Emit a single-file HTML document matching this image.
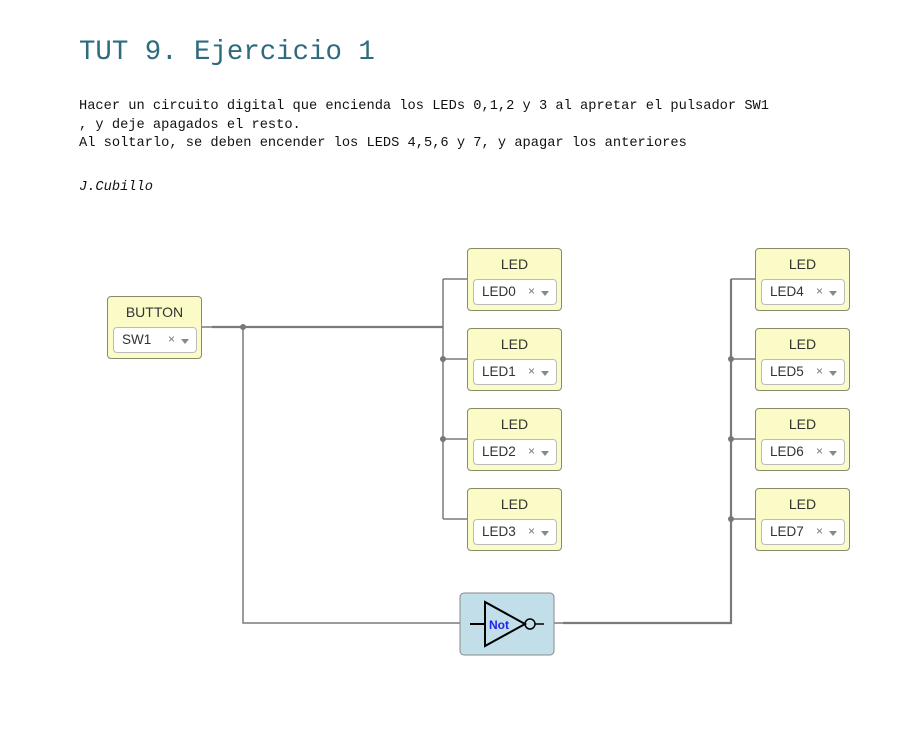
<!DOCTYPE html>
<html><head><meta charset="utf-8"><style>
body{margin:0;width:919px;height:734px;background:#fff;position:relative;overflow:hidden;font-family:"Liberation Sans",sans-serif}
.t{position:absolute;left:79px;font-family:"Liberation Mono",monospace;white-space:pre}
.box{position:absolute;width:95px;height:63px;background:#fbfbc8;border:1px solid #8a8a6a;border-radius:4px;box-sizing:border-box}
.box .h{position:absolute;top:7px;left:0;right:0;text-align:center;font-size:14px;color:#333}
.box .s{position:absolute;left:5px;top:30px;width:84px;height:26px;background:#fff;border:1px solid #bbb;border-radius:4px;box-sizing:border-box;font-size:13.5px;color:#333}
.s span{position:absolute;left:8px;top:4px}
.s i{position:absolute;left:54px;top:4px;font-style:normal;font-size:12px;color:#777}
.s b{position:absolute;left:67px;top:11px;border-left:4px solid transparent;border-right:4px solid transparent;border-top:5px solid #888}
</style></head><body>
<div class="t" style="top:37px;font-size:27.4px;color:#2e6b7e">TUT 9. Ejercicio 1</div>
<div class="t" style="top:98px;font-size:13.7px;line-height:18.5px;color:#111">Hacer un circuito digital que encienda los LEDs 0,1,2 y 3 al apretar el pulsador SW1
, y deje apagados el resto.
Al soltarlo, se deben encender los LEDS 4,5,6 y 7, y apagar los anteriores</div>
<div class="t" style="top:180px;font-size:13.7px;font-style:italic;color:#111">J.Cubillo</div>
<svg width="919" height="734" style="position:absolute;left:0;top:0">
<g stroke="#7a7a7a" fill="none">
<path d="M202 327H212M243 327V623H460M443 279H468M443 359H468M443 439H468M443 519H468M443 279V519M731 279H756M731 359H756M731 439H756M731 519H756M554 623H563" stroke-width="1.5"/>
<path d="M212 327H443M563 623H731V279" stroke-width="2.2"/>
</g>
<g fill="#777"><circle cx="243" cy="327" r="3"/><circle cx="443" cy="359" r="3"/><circle cx="443" cy="439" r="3"/><circle cx="731" cy="359" r="3"/><circle cx="731" cy="439" r="3"/><circle cx="731" cy="519" r="3"/></g>
<rect x="460" y="593" width="94" height="62" rx="4" fill="#c2dfe9" stroke="#888"/>
<path d="M470 624H485M485 602V646L525 624Z" stroke="#000" stroke-width="2" fill="none"/>
<circle cx="530" cy="624" r="5" stroke="#000" stroke-width="1.5" fill="none"/>
<path d="M535 624H544" stroke="#000" stroke-width="1.5"/>
<text x="489" y="629" font-family="Liberation Sans" font-weight="bold" font-size="12" fill="#2020ee">Not</text>
</svg>
<div class="box" style="left:107px;top:296px"><div class="h">BUTTON</div><div class="s"><span>SW1</span><i>×</i><b></b></div></div>
<div class="box" style="left:467px;top:248px"><div class="h">LED</div><div class="s"><span>LED0</span><i>×</i><b></b></div></div>
<div class="box" style="left:467px;top:328px"><div class="h">LED</div><div class="s"><span>LED1</span><i>×</i><b></b></div></div>
<div class="box" style="left:467px;top:408px"><div class="h">LED</div><div class="s"><span>LED2</span><i>×</i><b></b></div></div>
<div class="box" style="left:467px;top:488px"><div class="h">LED</div><div class="s"><span>LED3</span><i>×</i><b></b></div></div>
<div class="box" style="left:755px;top:248px"><div class="h">LED</div><div class="s"><span>LED4</span><i>×</i><b></b></div></div>
<div class="box" style="left:755px;top:328px"><div class="h">LED</div><div class="s"><span>LED5</span><i>×</i><b></b></div></div>
<div class="box" style="left:755px;top:408px"><div class="h">LED</div><div class="s"><span>LED6</span><i>×</i><b></b></div></div>
<div class="box" style="left:755px;top:488px"><div class="h">LED</div><div class="s"><span>LED7</span><i>×</i><b></b></div></div>
</body></html>
